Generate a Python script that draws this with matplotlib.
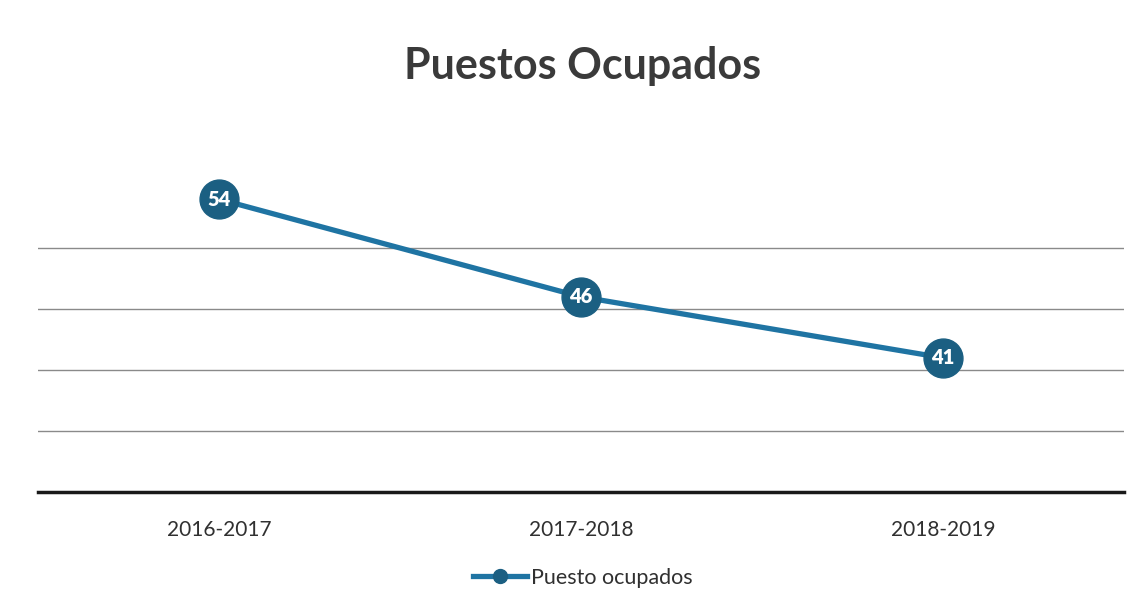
import matplotlib
matplotlib.use("Agg")
import matplotlib.pyplot as plt
from matplotlib.lines import Line2D

categories = ["2016-2017", "2017-2018", "2018-2019"]
values = [54, 46, 41]
series_name = "Puesto ocupados"
title = "Puestos Ocupados"

plt.rcParams['font.family'] = ['Lato', 'DejaVu Sans']

fig = plt.figure(figsize=(11.48, 6.16), dpi=100)
ax = fig.add_axes([38/1148, 1-492/616, (1124-38)/1148, (492-126)/616])

line_color = "#1f74a3"
marker_color = "#1b5f82"

x = list(range(len(categories)))
ax.plot(x, values, color=line_color, lw=3.8, zorder=3,
        marker='o', markersize=28, markerfacecolor=marker_color,
        markeredgecolor=marker_color)
for xi, v in zip(x, values):
    ax.text(xi, v, str(v), color="white", fontsize=14.5, fontweight='heavy',
            ha='center', va='center', zorder=4)

ax.set_xlim(-0.5, len(categories) - 0.5)
ax.set_ylim(30, 60)
for g in [35, 40, 45, 50]:
    ax.axhline(g, color="#8a8a8a", lw=1.0, zorder=1)
ax.axhline(30, color="#1a1a1a", lw=2.5, zorder=2, clip_on=False)

for s in ax.spines.values():
    s.set_visible(False)
ax.set_yticks([])
ax.set_xticks(x)
ax.set_xticklabels(categories, fontsize=15, color="#303030")
ax.tick_params(axis='x', length=0, pad=20)

fig.text(583/1148, 1-66/616, title, fontsize=31, fontweight='bold',
         color="#3a3a3a", ha='center', va='center')

handle = Line2D([0], [0], color=line_color, lw=3.8, marker='o',
                markersize=10, markerfacecolor=marker_color,
                markeredgecolor=marker_color)
fig.legend([handle], [series_name], loc='center', bbox_to_anchor=(583/1148, 1-578/616),
           frameon=False, fontsize=15.5, handlelength=2.5, handletextpad=0.2,
           labelcolor="#303030")

fig.savefig("out.png", dpi=100, facecolor="white")
